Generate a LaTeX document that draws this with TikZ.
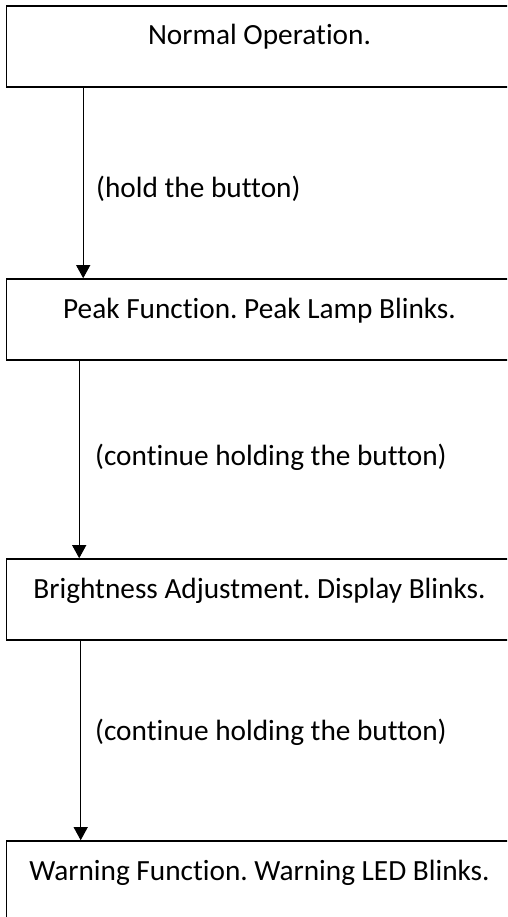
\documentclass[tikz,border=0pt]{standalone}
\usepackage{fontspec}
\setmainfont{Carlito}[Ligatures=NoCommon]
\usetikzlibrary{arrows.meta}
\frenchspacing
\begin{document}
\begin{tikzpicture}[x=1pt,y=1pt,
  box/.style={draw=black,line width=1.6pt,inner sep=0pt,minimum width=506pt,
    text height=39pt,text depth=42pt,font=\fontsize{29.3}{33}\selectfont},
  conn/.style={line width=0.9pt,-{Triangle[length=13pt,width=14pt]}},
  lbl/.style={anchor=base west,inner sep=0pt,font=\fontsize{29.3}{33}\selectfont}]
\clip (0,0) rectangle (507,-917);
\useasboundingbox (0,0) rectangle (507,-917);
\node[box] (b1) at (259.5,-46.5) {Normal Operation.};
\node[box] (b2) at (259.5,-319.5) {Peak Function. Peak Lamp Blinks.};
\node[box] (b3) at (259.5,-599.5) {Brightness Adjustment. Display Blinks.};
\node[box] (b4) at (259.5,-881.5) {Warning Function. Warning LED Blinks.};
\draw[conn] ([xshift=77.5pt]b1.south west) -- ([xshift=77.5pt]b2.north west);
\draw[conn] ([xshift=73.5pt]b2.south west) -- ([xshift=73.5pt]b3.north west);
\draw[conn] ([xshift=75pt]b3.south west) -- ([xshift=75pt]b4.north west);
\node[lbl] (l1) at (96,-198) {(hold the button)};
\node[lbl] (l2) at (95,-465) {(continue holding the button)};
\node[lbl] (l3) at (95,-740) {(continue holding the button)};
\end{tikzpicture}
\end{document}
